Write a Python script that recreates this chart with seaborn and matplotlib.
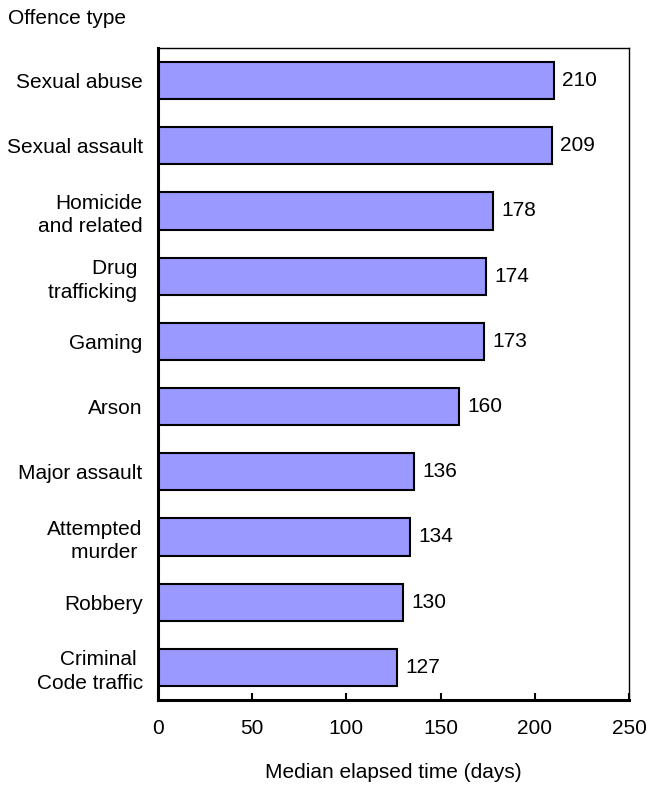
import matplotlib
matplotlib.use("Agg")
import matplotlib.pyplot as plt
import seaborn as sns
import pandas as pd

categories = ["Sexual abuse", "Sexual assault", "Homicide\nand related", "Drug \ntrafficking ",
              "Gaming", "Arson", "Major assault", "Attempted\nmurder ", "Robbery",
              "Criminal \nCode traffic"]
values = [210, 209, 178, 174, 173, 160, 136, 134, 130, 127]
xticks = [0, 50, 100, 150, 200, 250]

sns.set_theme(style="white")
plt.rcParams['font.family'] = ['Liberation Sans', 'DejaVu Sans']

FS = 15

fig = plt.figure(figsize=(6.58, 7.85), dpi=100)
ax = fig.add_axes([158/658, 1-700/785, (629-158)/658, (700-48)/785])

df = pd.DataFrame({"cat": categories, "val": values})
sns.barplot(data=df, x="val", y="cat", orient="h", color="#9999FF", saturation=1,
            edgecolor="black", linewidth=1.5, width=0.57, ax=ax)

for i, v in enumerate(values):
    ax.annotate(str(v), xy=(v, i), xytext=(6, 0), textcoords="offset points",
                va="center", ha="left", fontsize=FS, color="black")

ax.set_xlim(0, 250)
ax.set_ylim(len(categories) - 0.5, -0.5)
ax.set_xticks(xticks)
ax.set_xticklabels([str(t) for t in xticks])
ax.tick_params(axis="x", direction="in", length=5, width=1.5, pad=14,
               labelsize=FS, colors="black", bottom=True)
ax.tick_params(axis="y", length=0, pad=11, labelsize=FS, colors="black")
for lbl in ax.get_yticklabels():
    lbl.set_multialignment("right")
    lbl.set_linespacing(1.3)
ax.set_ylabel("")
ax.set_xlabel("Median elapsed time (days)", fontsize=FS, labelpad=18, color="black")

for side in ["left", "bottom"]:
    ax.spines[side].set_linewidth(2.2)
    ax.spines[side].set_color("black")
for side in ["top", "right"]:
    ax.spines[side].set_linewidth(1.0)
    ax.spines[side].set_color("black")
    ax.spines[side].set_visible(True)

fig.text(8/658, 1-18/785, "Offence type", fontsize=FS, ha="left", va="center", color="black")

fig.savefig("out.png", dpi=100)
